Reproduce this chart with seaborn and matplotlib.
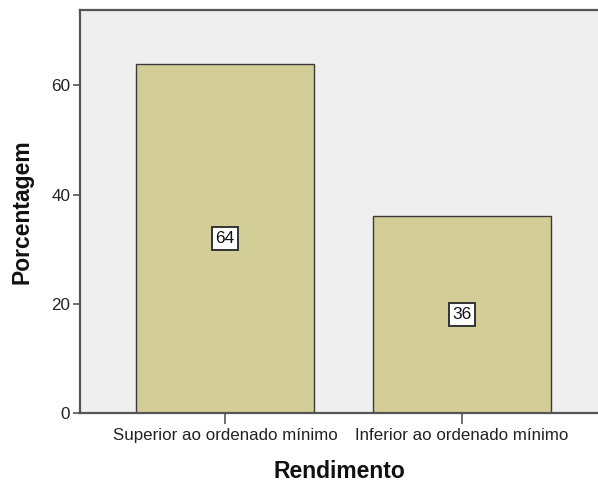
import matplotlib
matplotlib.use("Agg")
import matplotlib.pyplot as plt
import seaborn as sns
import pandas as pd

categorias = ["Superior ao ordenado mínimo", "Inferior ao ordenado mínimo"]
porcentagens = [64, 36]
yticks = [0, 20, 40, 60]

df = pd.DataFrame({"Rendimento": categorias, "Porcentagem": porcentagens})

sns.set_style("white")
plt.rcParams["font.family"] = ["Liberation Sans", "DejaVu Sans"]

fig = plt.figure(figsize=(5.98, 4.91), dpi=100)
ax = fig.add_axes([80 / 598, 78 / 491, 1 - 80 / 598, (413 - 10) / 491])
ax.set_facecolor("#EFEFEF")

sns.barplot(data=df, x="Rendimento", y="Porcentagem", color="#D3CE98",
            saturation=1, width=0.75, edgecolor="#3A3A3A", linewidth=1.0, ax=ax)

ax.set_xlim(-0.612, 1.574)
ax.set_ylim(0, 73.8)
ax.set_yticks(yticks)

for cont in ax.containers:
    ax.bar_label(cont, labels=[f"{v:d}" for v in porcentagens], label_type="center",
                 fontsize=12.5, color="#111111",
                 bbox=dict(boxstyle="square,pad=0.22", facecolor="white",
                           edgecolor="#333333", linewidth=1.4))

for side in ["left", "top", "bottom"]:
    ax.spines[side].set_color("#555555")
    ax.spines[side].set_linewidth(1.6)
ax.spines["right"].set_visible(False)

ax.tick_params(axis="y", direction="out", length=5, width=1.2, color="#555555",
               labelsize=12.3, labelcolor="#222222", pad=2, left=True)
ax.tick_params(axis="x", direction="out", length=8, width=1.2, color="#555555",
               labelsize=12.2, labelcolor="#222222", pad=3, bottom=True)

ax.set_ylabel("Porcentagem", fontsize=16.5, fontweight="bold", color="#111111", labelpad=13)
ax.set_xlabel("Rendimento", fontsize=16.5, fontweight="bold", color="#111111", labelpad=12)

fig.savefig("out.png", dpi=100)
